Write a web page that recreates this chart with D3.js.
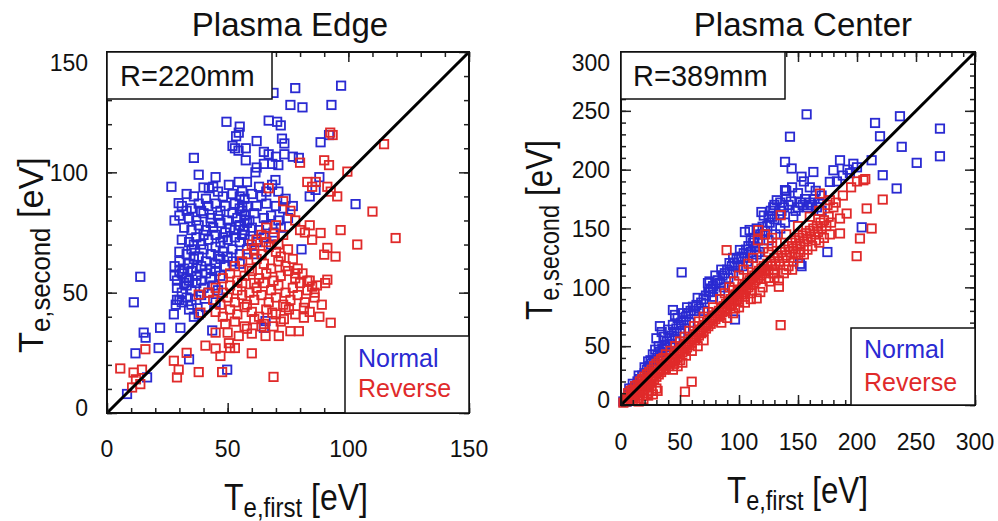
<!DOCTYPE html>
<html><head><meta charset="utf-8">
<script src="https://cdn.jsdelivr.net/npm/d3@7"></script>
<style>body{margin:0;background:#fff} text{font-family:"Liberation Sans",Arial,Helvetica,sans-serif;fill:#111}</style>
</head><body><svg id="c" width="998" height="521"></svg>
<script>
// ---------- DATA ----------
const edgeNormal = [
[69,133],[78,135],[97,136],[76,128],[81,127],[93,128],[49.5,121],[55,119],[54.6,116.5],[67,121.5],[70.5,121],[72,119.5],[53.5,115],[62,113],[72.5,114],[73.5,112],[52,111],[53,110],[54.5,109],[57.5,110],[88.5,112.5],[92,115.5],[65,108.5],[67,107.5],[70,106.5],[73.5,107.5],[77,106.5],[79.5,106],[36,106],[57.5,105],[62,102],[65,103.5],[68.5,103.5],[71,103],[61.5,100],[38,99],[45,98],[26.7,94],[40,93.7],[42.2,93.4],[44,94],[50.5,94.8],[54.6,96],[58,96],[63,94],[69.8,96.8],[68.4,94.8],[88,98],[86.4,92.7],[84,90],[29.7,87.2],[103,86.8],[28,80],[80.6,68],[13.8,56.6],[11.1,46],[22,35.4],[15.2,33.4],[16,31.3],[21.4,27],[11.8,24.8],[34,22.3],[16.6,14.8],[8.3,7.9],[49.8,18],[43.6,34.3],[65.7,38.2],[65,35.4],[30.4,35.4],[27.7,41],[28.5,45],[30,47],
[33,91],[36,90],[41,89],[46,92],[48,90],[52,91],[56,92],[60,91],[64,90],[57,89],[66,92],[71,92],[74,89],[77,86],
[31,86],[35,85],[38,87],[42,86],[45,87],[49,86],[53,87],[55,85],[58,86],[62,86],[66,87],[70,86],[73,85],[39,84],[47,84],
[30,82],[34,81],[37,80],[40,83],[43,81],[46,82],[50,80],[52,83],[54,81],[57,82],[59,80],[61,83],[65,81],[68,82],[71,80],[75,81],[56,84],[33,84],
[32,77],[35,76],[38,78],[41,76],[44,77],[47,79],[49,75],[51,77],[55,78],[57,76],[58,79],[60,77],[63,76],[66,78],[69,75],[72,77],[43,79],[53,76],
[31,72],[34,71],[37,73],[39,70],[42,72],[45,74],[47,71],[50,72],[53,73],[55,71],[57,74],[59,72],[62,71],[65,73],[68,70],[40,74],[48,73],[36,70],
[30,67],[33,66],[35,68],[38,65],[40,68],[43,66],[45,69],[48,67],[50,65],[52,68],[55,66],[58,68],[61,66],[36,65],[46,65],
[28,61],[30,63],[32,60],[34,62],[36,64],[39,61],[41,63],[43,60],[45,62],[47,64],[49,61],[52,63],[55,62],[37,60],
[28,57],[29,55],[31,58],[33,56],[35,59],[37,57],[39,55],[41,58],[43,56],[45,59],[47,57],[30,59],[34,55],
[29,52],[31,50],[33,53],[35,51],[37,54],[40,52],[42,50],[44,53],[46,51],[32,54],
[29,47],[31,46],[33,48],[35,45],[37,47],[39,49],[34,43],[36,40],[41,44],[45,46],[38,41],
[55,90],[56,86],[57,80],[55,78],[56,74]
];
const edgeReverse = [
[80,104],[90,105],[92,103],[92.5,116.5],[93.5,115.5],[99.6,100.3],[114.8,111.7],[110,83.7],[119.6,72.7],[103.7,70],[96.8,76],[95.4,90],[92.7,92],[91.3,94],[83,96],[86.5,96],[85,94],[67,93.4],[91.3,68.6],[90,65.8],[94.7,65],[85,72],[88.5,74.8],[91.3,55.4],[90.4,54],[92.7,37.5],[85,52.5],[86,50],[83,55],[78,58],[80,76],[82,75],[84,78],[78,80],[76,84],[73,88],[70,78],[66,77],
[69,15],[60,24.8],[47.7,17],[38,17],[29.7,18],[29,14.8],[27.7,21.7],[33,25],[40.8,28],[45,26.8],[47,23.7],[50.5,29],[50,33.4],[45,33.4],[15.9,26.5],[5.5,18.5],[11,16.8],[14.5,18],[13.8,12],[10.4,10.6],[12,14],[65.7,32],[71.2,32],[76,34],[79.5,34],[54.6,32],[68.5,41.7],[75.4,43],[81.6,43.7],[73.3,39],[81.6,39.6],[38.7,41.7],[38,49.2],[42.2,50],[53,27],[51,27],[60,33],[64,36],
[62,72],[66,71],[69,73],[71,70],[73,74],[64,74],
[58,66],[61,68],[64,66],[67,69],[70,67],[72,65],[75,68],[60,70],
[53,61],[56,63],[59,60],[62,64],[65,62],[68,60],[71,63],[74,61],[77,64],[79,60],
[48,56],[51,58],[54,55],[57,57],[60,59],[63,56],[66,58],[69,55],[72,57],[75,59],[78,56],[81,58],[84,55],[61,54],
[45,52],[48,50],[51,53],[54,51],[56,54],[59,50],[62,52],[65,54],[68,51],[71,53],[74,50],[77,52],[80,54],[83,51],[87,53],
[44,47],[47,45],[50,48],[53,46],[56,49],[58,45],[61,47],[64,49],[67,46],[70,48],[73,45],[76,47],[79,49],[82,46],[86,48],[89,45],
[45,42],[48,40],[51,43],[54,41],[57,44],[60,42],[63,40],[66,43],[70,41],[74,44],[78,41],[84,42],[88,40],
[49,37],[53,38],[57,36],[61,39],[65,37],[69,36],[72,38],[58,35]
];
const centerNormal = [
[2,3],[4,6],[6,9],[8,12],[10,14],[12,16],[14,20],[16,22],[18,25],[20,27],[22,30],[24,33],[26,35],[28,38],[10,18],[15,25],[20,32],[25,38],[5,3],[9,9],[13,14],[17,20],[7,14],[23,37],[27,43],[29,47],
[30,56.7],[33,67],[34.5,62],[31,42],[33,45],[35,48],[37,51],[39,54],[41,57],[43,59],[45,62],[47,65],[49,68],[51,70],[53,72],[55,75],[57,78],[59,80],[36,58],[40,64],[44,68],[48,74],[52,78],[56,83],[44,80.7],[45.8,76.5],[51.4,112.7],[32,50],[38,49],[42,52],[46,56],[50,61],[54,65],[58,70],
[61,83.5],[65,91],[62,80],[64,85],[66,82],[68,87],[70,90],[72,93],[74,96],[73.7,103.6],[75.4,96],[76,99],[78,101],[80,103],[82,106],[84,104],[86,110],[88,112],[90,115],[92,120.6],[94,118],[96,121],[98,124],[100.8,131.7],[96.6,72.7],[87,100],[91,108],[95,112],[99,117],[70,80],[78,92],[84,97],[75,105],[80,110],[85,115],[95,125],[100,125],
[102,126],[104,129],[105,147],[109,148.7],[106,132],[108,135],[110,130],[112,138],[114,134],[116,140],[118,145],[120,151.5],[119,164],[121,161],[122,148],[124,152],[126,155],[128,160],[129,168],[132,174],[130,158],[134,162],[136,165],[138,168],[140,177],[140,182],[103,118],[107,122],[111,125],[115,128],[113,142],[117,130],[125,140],[131,145],[135,150],[139,155],[127,165],[110,140],[115,150],[120,145],[125,160],[130,170],[135,172],
[142,170],[144,173],[146,160],[148,165],[150,168],[152,172],[154,170],[156,175],[158,168],[160,172],[162,170],[164,175],[166,168],[168,172],[170,165],[143.2,228],[157.3,247],[139,206.6],[144.6,201],[163,198],[153,194],[139,182.6],[151.7,120],[153,118],[174.9,130],[145,185],[150,180],[160,185],[155,190],[165,182],[170,178],
[185.6,208],[196.9,205],[192,200],[180,199.5],[177,189.6],[183,190],[188,195],[194,197],[200,202],[204,151],[212.4,208],[215.3,239.7],[219.5,228.4],[221.8,195.3],[233.6,184],[236.4,245.4],[237.9,219.4],[250.6,205.8],[270.3,234.9],[270.3,211.4]
];
const centerReverse = [
[2,2],[4,3],[5,6],[6,4],[7,7],[8,5],[9,9],[10,7],[11,10],[12,8],[13,12],[14,10],[15,14],[16,11],[17,15],[18,13],[19,18],[20,15],[21,19],[22,17],[23,21],[24,18],[25,23],[26,20],[27,25],[28,22],[29,27],[30,24],[31,28],[32,26],[33,30],[34,28],[35,33],[36,30],[37,34],[38,31],[39,36],[40,33],[8,12],[12,16],[16,20],[20,24],[24,28],[28,33],[32,37],[36,40],[10,4],[14,6],[18,8],[22,10],[26,12],[30,14],[6,10],[10,13],[14,17],[18,22],[22,26],[26,30],[30,35],[34,39],[38,43],[15,3],[19,5],[23,8],[27,9],[31,12],
[41,38],[42,36],[43,40],[44,37],[45,42],[46,39],[47,44],[48,41],[49,46],[50,43],[51,48],[52,45],[53,50],[54,47],[55,52],[56,49],[57,54],[58,51],[59,56],[60,53],[61,58],[62,55],[63,60],[64,57],[65,62],[66,59],[67,64],[68,61],[69,66],[70,63],[71,68],[72,65],[73,70],[74,67],[75,72],[76,69],[77,74],[78,71],[79,76],[80,73],[42,46],[46,50],[50,54],[54,58],[58,63],[62,67],[66,71],[70,75],[74,79],[78,83],[45,35],[50,38],[55,42],[60,46],[65,50],[70,55],[54.2,11.3],[59.9,19.8],[44,30],[48,33],[52,36],
[81,78],[82,75],[83,80],[84,76],[85,82],[86,79],[87,84],[88,80],[89,86],[90,82],[91,88],[92,84],[93,90],[94,86],[95,92],[96,88],[97,94],[98,90],[99,96],[100,92],[101,98],[102,94],[103,100],[104,96],[105,102],[106,98],[107,104],[108,100],[109,106],[110,102],[111,108],[112,104],[113,110],[114,106],[115,112],[116,108],[117,114],[118,110],[119,116],[120,112],[89.5,131.6],[95.2,97.6],[96.6,82],[115,90.6],[116.4,148.6],[120.6,133],[84,90],[88,95],[92,100],[96,105],[100,110],[104,115],[108,120],[112,125],[85,70],[90,74],[95,78],[100,83],[105,87],[110,90],[118,96],[100,88],[105,92],[110,95],
[121,118],[122,114],[124,120],[125,115],[127,122],[128,118],[130,125],[131,120],[133,127],[134,122],[136,130],[137,125],[139,132],[140,127],[142,135],[143,130],[145,138],[146,133],[148,140],[149,135],[151,142],[152,137],[154,144],[155,139],[157,146],[158,141],[160,148],[161,143],[163,150],[164,145],[166,152],[167,147],[169,155],[170,150],[172,157],[174,152],[176,160],[178,155],[135.3,67.9],[135.3,161.3],[133.8,106],[133.8,100.5],[129,111.8],[126,105],[130,115],[138,112],[142,118],[146,122],[150,125],[155,128],[125,130],[128,135],[132,138],[140,145],[150,152],[160,160],[168,165],[175,170],[165,140],[172,142],[177,145],[116,140],[122,145],[128,142],[120,100],[125,108],[130,108],[140,115],[145,115],[148,128],[152,130],[158,132],[162,135],[168,138],
[168.6,179.7],[177,174],[185.6,158.5],[185.6,145.8],[191.2,162.7],[199.7,126.5],[202.5,141.5],[212.4,150],[221.8,174.6],[208.2,167],[205.4,191],[207,192],[200,190],[182,172],[188,178],[195,185],[180,168]
];
const edgeTicks = [0, 50, 100, 150];
const centerTicks = [0, 50, 100, 150, 200, 250, 300];
const titles = ["Plasma Edge", "Plasma Center"];
const radiusLabels = ["R=220mm", "R=389mm"];
const seriesNames = ["Normal", "Reverse"];
const xSub = "e,first", ySub = "e,second";

// ---------- LAYOUT ----------
const BLUE = "#2a2ad2", RED = "#e02a2a";
const panels = [
  {title: titles[0], rlabel: radiusLabels[0], normal: edgeNormal, reverse: edgeReverse, ticks: edgeTicks, max: 150,
   x0: 107, x1: 469, y0: 52, y1: 413, titleX: 290, rBoxR: 272, rBoxB: 99, rTextX: 120,
   legL: 345, legT: 336, legX: 358, legY1: 367, legY2: 397, yLabR: 88, xLabBase: 457,
   xtStart: 224, xtW: 144, xtBase: 510, ytX: 43, ytStart: 353, ytLen: 196},
  {title: titles[1], rlabel: radiusLabels[1], normal: centerNormal, reverse: centerReverse, ticks: centerTicks, max: 300,
   x0: 621, x1: 975, y0: 52, y1: 405, titleX: 803, rBoxR: 785, rBoxB: 99, rTextX: 633,
   legL: 851, legT: 328, legX: 864, legY1: 358, legY2: 391, yLabR: 610, xLabBase: 450,
   xtStart: 727, xtW: 141, xtBase: 503, ytX: 552, ytStart: 320, ytLen: 180}
];

const svg = d3.select("#c");

function axisTitle(parent, sub) {
  const t = parent.append("text");
  t.append("tspan").attr("font-size", 36).text("T");
  t.append("tspan").attr("font-size", 27).attr("dy", 7).text(sub);
  t.append("tspan").attr("font-size", 36).attr("dy", -7).text(" [eV]");
  return t;
}

panels.forEach(p => {
  const x = d3.scaleLinear().domain([0, p.max]).range([p.x0, p.x1]);
  const y = d3.scaleLinear().domain([0, p.max]).range([p.y1, p.y0]);
  const g = svg.append("g");
  const minor = d3.range(0, p.max + 0.001, 10);

  g.append("text").attr("x", p.titleX).attr("y", 36).attr("text-anchor", "middle")
    .attr("font-size", 33).text(p.title);

  const sq = 8.4;
  [[p.normal, BLUE], [p.reverse, RED]].forEach(([data, col]) => {
    g.append("g").selectAll("rect").data(data).join("rect")
      .attr("x", d => x(d[0]) - sq / 2).attr("y", d => y(d[1]) - sq / 2)
      .attr("width", sq).attr("height", sq)
      .attr("fill", "none").attr("stroke", col).attr("stroke-width", 1.8);
  });

  g.append("line").attr("x1", x(0)).attr("y1", y(0)).attr("x2", x(p.max)).attr("y2", y(p.max))
    .attr("stroke", "#000").attr("stroke-width", 3);

  const mk = (axisFn, scale, vals, size, tx, ty) => {
    const a = g.append("g").attr("transform", `translate(${tx},${ty})`)
      .call(axisFn(scale).tickValues(vals).tickSizeInner(-size).tickSizeOuter(0).tickFormat(""));
    a.select(".domain").remove();
    a.selectAll("line").attr("stroke", "#222").attr("stroke-width", 1.5);
    return a;
  };
  mk(d3.axisBottom, x, minor, 5, 0, p.y1);
  mk(d3.axisBottom, x, p.ticks, 10, 0, p.y1);
  mk(d3.axisTop, x, minor, 5, 0, p.y0);
  mk(d3.axisTop, x, p.ticks, 10, 0, p.y0);
  mk(d3.axisLeft, y, minor, 5, p.x0, 0);
  mk(d3.axisLeft, y, p.ticks, 10, p.x0, 0);
  mk(d3.axisRight, y, minor, 5, p.x1, 0);
  mk(d3.axisRight, y, p.ticks, 10, p.x1, 0);

  g.append("g").selectAll("text").data(p.ticks).join("text")
    .attr("x", d => x(d)).attr("y", p.xLabBase).attr("text-anchor", "middle")
    .attr("font-size", 23).text(d => d);
  g.append("g").selectAll("text").data(p.ticks).join("text")
    .attr("x", p.yLabR)
    .attr("y", d => Math.min(Math.max(y(d), p.y0 + 11), p.y1 - 5))
    .attr("dy", "0.36em").attr("text-anchor", "end")
    .attr("font-size", 23).text(d => d);

  g.append("rect").attr("x", p.x0).attr("y", p.y0).attr("width", p.x1 - p.x0).attr("height", p.y1 - p.y0)
    .attr("fill", "none").attr("stroke", "#111").attr("stroke-width", 2);

  g.append("rect").attr("x", p.x0).attr("y", p.y0).attr("width", p.rBoxR - p.x0).attr("height", p.rBoxB - p.y0)
    .attr("fill", "#fff").attr("stroke", "#111").attr("stroke-width", 1.5);
  g.append("text").attr("x", p.rTextX).attr("y", p.rBoxB - 13).attr("font-size", 29).text(p.rlabel);

  g.append("rect").attr("x", p.legL).attr("y", p.legT).attr("width", p.x1 - p.legL).attr("height", p.y1 - p.legT)
    .attr("fill", "#fff").attr("stroke", "#111").attr("stroke-width", 1.5);
  g.append("text").attr("x", p.legX).attr("y", p.legY1).attr("font-size", 25).style("fill", BLUE).text(seriesNames[0]);
  g.append("text").attr("x", p.legX).attr("y", p.legY2).attr("font-size", 25).style("fill", RED).text(seriesNames[1]);

  const gx = g.append("g");
  const tx = axisTitle(gx, xSub);
  const wx = tx.node().getBBox().width;
  gx.attr("transform", `translate(${p.xtStart},${p.xtBase}) scale(${p.xtW / wx},1)`);

  const gy = g.append("g");
  const ty = axisTitle(gy, ySub);
  const wy = ty.node().getBBox().width;
  gy.attr("transform", `translate(${p.ytX},${p.ytStart}) rotate(-90) scale(${p.ytLen / wy},1)`);
});
</script></body></html>
